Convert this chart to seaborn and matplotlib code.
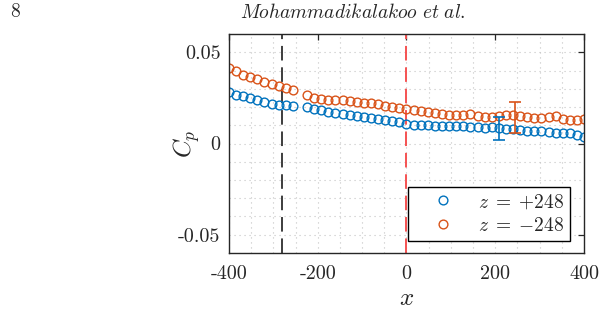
import numpy as np
import matplotlib
matplotlib.use("Agg")
import matplotlib.pyplot as plt
import seaborn as sns

# ---- data ----
x_pos = [-400 + 16 * k for k in range(51)]
cp_plus = [0.0282, 0.0267, 0.0258, 0.0251, 0.0240, 0.0227, 0.0218, 0.0213, 0.0209, 0.0205,
           np.nan,
           0.0200, 0.0191, 0.0182, 0.0173, 0.0167, 0.0160, 0.0155, 0.0149, 0.0145, 0.0140,
           0.0133, 0.0127, 0.0124, 0.0118,
           0.0105, 0.0104, 0.0100, 0.0100, 0.0096, 0.0096, 0.0095, 0.0095, 0.0095, 0.0091,
           0.0091, 0.0087,
           0.0089, 0.0085, 0.0078, 0.0078, 0.0073, 0.0069, 0.0067, 0.0067, 0.0064, 0.0060,
           0.0058, 0.0055, 0.0049, 0.0034]
cp_minus = [0.0413, 0.0395, 0.0378, 0.0367, 0.0355, 0.0340, 0.0325, 0.0315, 0.0304, 0.0291,
            np.nan,
            0.0267, 0.0250, 0.0243, 0.0240, 0.0240, 0.0236, 0.0232, 0.0230, 0.0224, 0.0220,
            0.0215, 0.0207, 0.0200, 0.0195,
            0.0190, 0.0185, 0.0178, 0.0173, 0.0167, 0.0162, 0.0158, 0.0155, 0.0155, 0.0164,
            0.0151, 0.0147,
            0.0145, 0.0149, 0.0155, 0.0155, 0.0149, 0.0145, 0.0140, 0.0140, 0.0145, 0.0149,
            0.0136, 0.0127, 0.0127, 0.0136]
labels = [r"$z\;=\;{+}248$", r"$z\;=\;{-}248$"]
err_x = [208, 245]
err_y = [0.0082, 0.0141]
err_half = [0.0064, 0.0086]
vline_black = -280
vline_red = 0
x_ticks = [-400, -200, 0, 200, 400]
y_ticks = [-0.05, 0, 0.05]
y_ticklabels = ["-0.05", "0", "0.05"]

c_blue = "#0072BD"
c_orange = "#D95319"

sns.set_theme(style="white")
plt.rcParams["font.family"] = ["cmr10", "DejaVu Serif"]
plt.rcParams["mathtext.fontset"] = "cm"
plt.rcParams["axes.unicode_minus"] = False
plt.rcParams["axes.formatter.use_mathtext"] = True

fig = plt.figure(figsize=(6.04, 3.13), dpi=100)
ax = fig.add_axes([0.379, 0.192, 0.588, 0.699])

for ys, col, lab in [(cp_plus, c_blue, labels[0]), (cp_minus, c_orange, labels[1])]:
    sns.lineplot(x=x_pos, y=ys, ax=ax, color=col, marker="o", linestyle="",
                 markerfacecolor="none", markeredgecolor=col, markeredgewidth=1.0,
                 markersize=6.3, label=lab)

ax.errorbar(err_x[0], err_y[0], yerr=err_half[0], color=c_blue, capsize=4.2,
            lw=1.2, capthick=1.2, fmt="none", zorder=3)
ax.errorbar(err_x[1], err_y[1], yerr=err_half[1], color=c_orange, capsize=4.2,
            lw=1.2, capthick=1.2, fmt="none", zorder=3)

ax.axvline(vline_black, color="#3d3d3d", lw=1.4, dashes=(7.5, 3.5), zorder=1)
ax.axvline(vline_red, color="#f55252", lw=1.4, dashes=(7.5, 3.5), zorder=1)

ax.set_xlim(-400, 400)
ax.set_ylim(-0.06, 0.06)
ax.set_xticks(x_ticks)
ax.set_xticklabels([str(t) for t in x_ticks])
ax.set_yticks(y_ticks)
ax.set_yticklabels(y_ticklabels)
ax.set_xticks(np.arange(-400, 401, 50), minor=True)
ax.set_yticks(np.arange(-0.06, 0.0601, 0.01), minor=True)
ax.grid(True, which="both", color="#c4c4c4", linestyle=(0, (1, 3.5)), lw=0.8)
ax.tick_params(which="major", direction="in", length=4, width=0.9, top=True, right=True,
               labelsize=14.5, colors="#262626")
ax.tick_params(axis="x", which="major", pad=9)
ax.tick_params(axis="y", which="major", pad=6)
ax.tick_params(which="minor", length=0, top=True, right=True)
for s in ax.spines.values():
    s.set_color("#262626")
    s.set_linewidth(1.0)
ax.set_axisbelow(True)

ax.set_xlabel(r"$x$", fontsize=18, labelpad=3)
ax.set_ylabel(r"$C_p$", fontsize=18)
ax.yaxis.set_label_coords(-0.075, 0.5)

leg = ax.legend(loc="lower right", fontsize=14, frameon=True, fancybox=False,
                edgecolor="black", framealpha=1, borderpad=0.3, handletextpad=0.3,
                labelspacing=0.3, handlelength=3.0, borderaxespad=0,
                bbox_to_anchor=(0.96, 0.055))
leg.get_frame().set_linewidth(1.0)

fig.text(10 / 604, 1 - 12 / 313, "8", fontsize=14, va="center", ha="left")
fig.text(353 / 604, 1 - 12 / 313, r"$\mathit{Mohammadikalakoo\ et\ al.}$", fontsize=14,
         va="center", ha="center")

fig.savefig("out.png", dpi=100)
